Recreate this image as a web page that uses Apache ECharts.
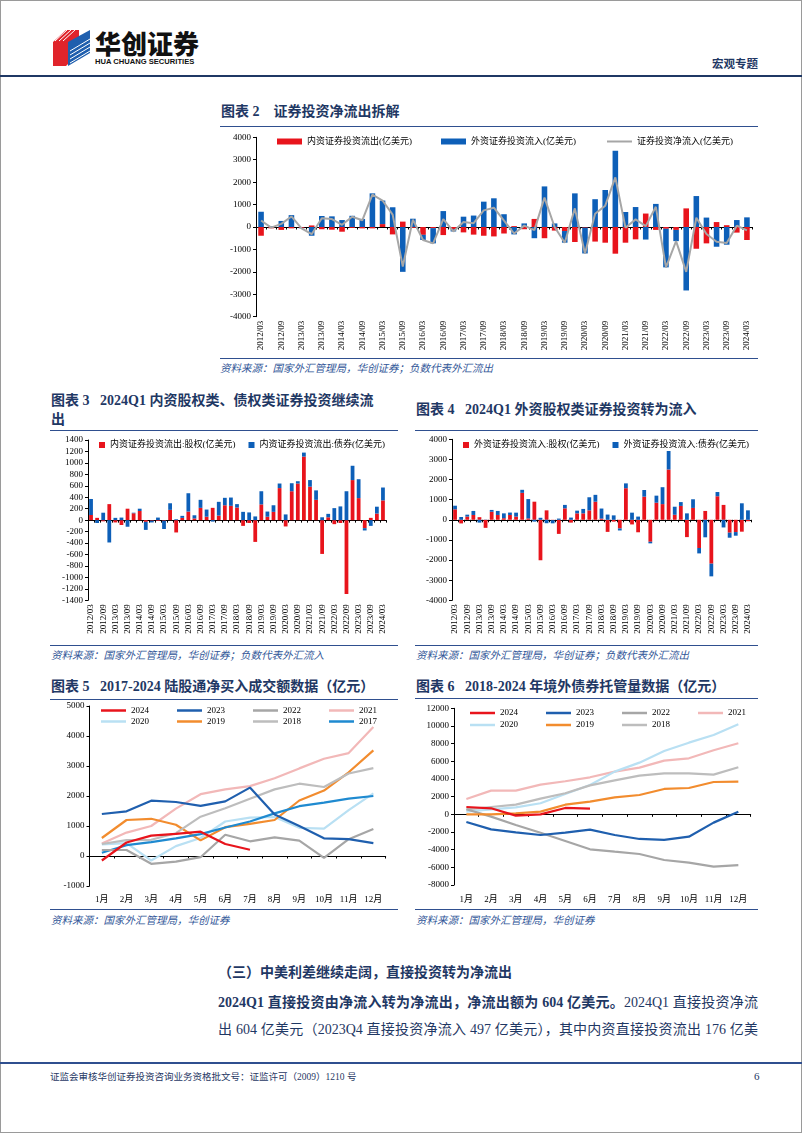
<!DOCTYPE html>
<html><head><meta charset="utf-8">
<script src="https://cdn.jsdelivr.net/npm/echarts@6/dist/echarts.min.js"></script>
<style>
body{margin:0;background:#fff;}
#page{position:relative;width:802px;height:1133px;overflow:hidden;background:#fff;font-family:'Liberation Serif','Noto Sans CJK SC',serif;}
.abs{position:absolute;white-space:nowrap;}
.ch{position:absolute;left:0;top:0;width:802px;height:1133px;pointer-events:none;}
.title{font-weight:bold;font-size:14px;color:#1f3864;line-height:16px;}
.rule{position:absolute;height:0;border-top:1.5px solid #2f4f8f;}
.src{font-style:italic;font-size:10.5px;color:#2f5597;line-height:12px;}
.para{font-size:14px;color:#1f3864;line-height:18px;width:540px;text-align:justify;text-align-last:justify;}
</style></head>
<body><div id="page">
<div class="abs" style="left:0;top:0;width:800px;height:1131px;border:1px solid #9a9a9a;"></div>
<svg class="abs" style="left:53px;top:29px;" width="40" height="38" viewBox="0 0 40 38">
  <polygon points="0,13 13,1 26,1 26,24 13,37 0,37" fill="#e0242b"/>
  <polygon points="15,13 37,1 37,24 15,37" fill="#1f5fae"/>
  <g stroke="#fff" stroke-width="1">
    <line x1="2" y1="12" x2="14" y2="1"/><line x1="6" y1="12" x2="18" y2="1"/><line x1="10" y1="12" x2="22" y2="1"/>
    <line x1="17" y1="22" x2="37" y2="10"/><line x1="17" y1="26" x2="37" y2="14"/><line x1="17" y1="30" x2="37" y2="18"/><line x1="17" y1="34" x2="37" y2="22"/>
  </g>
</svg>
<div class="abs" style="left:95px;top:28px;font-family:'Noto Sans CJK SC';font-weight:900;font-size:26px;line-height:30px;letter-spacing:0px;color:#111;">华创证券</div>
<div class="abs" style="left:95px;top:57px;font-family:'Liberation Sans';font-weight:bold;font-size:7.6px;line-height:9px;color:#111;">HUA CHUANG SECURITIES</div>
<div class="abs" style="left:712px;top:56px;font-family:'Noto Sans CJK SC';font-weight:bold;font-size:11.5px;line-height:14px;color:#1f3864;">宏观专题</div>
<div class="abs" style="left:0;top:75px;width:802px;height:2px;background:#1f3864;"></div>

<div class="abs title" style="left:221px;top:104px;">图表 2&nbsp;&nbsp;&nbsp;&nbsp;证券投资净流出拆解</div>
<div class="rule" style="left:220px;top:126px;width:538px;"></div>
<div class="rule" style="left:220px;top:357.5px;width:538px;"></div>
<div class="abs src" style="left:220px;top:363px;">资料来源：国家外汇管理局，华创证券；负数代表外汇流出</div>

<div class="abs title" style="left:51px;top:393px;">图表 3&nbsp;&nbsp;&nbsp;2024Q1 内资股权类、债权类证券投资继续流</div>
<div class="abs title" style="left:51px;top:412px;">出</div>
<div class="rule" style="left:50px;top:430px;width:348px;"></div>
<div class="rule" style="left:50px;top:644.5px;width:348px;"></div>
<div class="abs src" style="left:51px;top:650px;">资料来源：国家外汇管理局，华创证券；负数代表外汇流入</div>

<div class="abs title" style="left:416px;top:402px;">图表 4&nbsp;&nbsp;&nbsp;2024Q1 外资股权类证券投资转为流入</div>
<div class="rule" style="left:415px;top:430px;width:343px;"></div>
<div class="rule" style="left:415px;top:644.5px;width:343px;"></div>
<div class="abs src" style="left:416px;top:650px;">资料来源：国家外汇管理局，华创证券；负数代表外汇流出</div>

<div class="abs title" style="left:51px;top:679px;">图表 5&nbsp;&nbsp;&nbsp;2017-2024 陆股通净买入成交额数据（亿元）</div>
<div class="rule" style="left:50px;top:699px;width:348px;"></div>
<div class="rule" style="left:50px;top:909px;width:348px;"></div>
<div class="abs src" style="left:51px;top:915px;">资料来源：国家外汇管理局，华创证券</div>

<div class="abs title" style="left:416px;top:679px;">图表 6&nbsp;&nbsp;&nbsp;2018-2024 年境外债券托管量数据（亿元）</div>
<div class="rule" style="left:415px;top:698px;width:343px;"></div>
<div class="rule" style="left:415px;top:909px;width:343px;"></div>
<div class="abs src" style="left:416px;top:915px;">资料来源：国家外汇管理局，华创证券</div>

<div class="abs" style="left:218px;top:964px;font-weight:bold;font-size:14px;line-height:18px;color:#1f3864;">（三）中美利差继续走阔，直接投资转为净流出</div>
<div class="abs para" style="left:218px;top:994px;"><b>2024Q1 直接投资由净流入转为净流出，净流出额为 604 亿美元。</b>2024Q1 直接投资净流</div>
<div class="abs para" style="left:218px;top:1021px;">出 604 亿美元（2023Q4 直接投资净流入 497 亿美元），其中内资直接投资流出 176 亿美</div>

<div class="abs" style="left:0;top:1062px;width:802px;height:1.5px;background:#2f4f8f;"></div>
<div class="abs" style="left:50px;top:1071px;font-size:9.5px;line-height:12px;color:#1f3864;">证监会审核华创证券投资咨询业务资格批文号：证监许可（2009）1210 号</div>
<div class="abs" style="left:754px;top:1070px;font-size:11px;line-height:13px;color:#1f3864;">6</div>

<div id="c2" class="ch"></div>
<div id="c3" class="ch"></div>
<div id="c4" class="ch"></div>
<div id="c5" class="ch"></div>
<div id="c6" class="ch"></div>
</div>
<script>
const quarters = ['2012/03','2012/06','2012/09','2012/12','2013/03','2013/06','2013/09','2013/12','2014/03','2014/06','2014/09','2014/12','2015/03','2015/06','2015/09','2015/12','2016/03','2016/06','2016/09','2016/12','2017/03','2017/06','2017/09','2017/12','2018/03','2018/06','2018/09','2018/12','2019/03','2019/06','2019/09','2019/12','2020/03','2020/06','2020/09','2020/12','2021/03','2021/06','2021/09','2021/12','2022/03','2022/06','2022/09','2022/12','2023/03','2023/06','2023/09','2023/12','2024/03'];
const months = ['1月','2月','3月','4月','5月','6月','7月','8月','9月','10月','11月','12月'];

// 图表2
const c2Domestic = [-390,-60,-130,-60,-40,70,-100,-120,-210,-40,-60,-60,130,-330,240,-40,-350,-50,-360,-100,-240,-340,-390,-420,-290,40,-100,360,-500,-160,-180,-670,-30,-650,-700,-1190,-700,-550,600,-130,-80,-130,830,-970,-730,220,80,-250,-580];
const c2Foreign = [680,30,270,530,-20,-390,490,475,310,500,360,1500,1050,880,-2000,370,-230,-680,710,-100,460,510,1130,1280,570,-330,160,-500,1810,160,-520,1500,-1150,1240,1650,3400,670,890,-560,1030,-1720,-500,-2830,1380,420,-880,-790,310,430];
const c2Net = [290,-30,140,470,-60,-320,390,355,100,460,300,1440,1180,550,-1760,330,-580,-730,350,-200,220,170,740,860,280,-290,60,-140,1310,0,-700,830,-1180,590,950,2210,-30,340,40,900,-1800,-630,-2000,410,-310,-660,-710,60,-150];

// 图表3
const c3Equity = [90,40,-20,280,-40,-85,200,120,160,-30,-10,-15,-10,180,-215,40,150,30,215,60,215,80,260,250,220,-100,-50,-380,275,60,145,560,-110,505,640,1110,585,355,-590,50,-70,-50,-1290,700,385,-140,40,115,345];
const c3Bond = [280,-50,130,-390,40,45,-115,10,40,-140,-30,45,-145,115,15,35,320,55,140,125,-25,240,130,145,60,145,135,65,230,90,115,80,100,140,40,70,115,165,50,60,210,240,505,250,330,-40,-100,120,225];

// 图表4
const c4Equity = [520,-180,160,240,130,-400,400,240,80,240,160,1340,70,900,-2010,470,-20,-700,570,-140,320,320,470,900,60,-600,-90,-430,1570,-230,-620,1150,-1090,850,780,2500,250,690,-860,590,-1400,440,-2180,1170,740,-640,-610,-590,-70];
const c4Bond = [180,140,95,200,-140,10,90,200,240,120,195,150,960,-90,100,-170,-155,60,170,110,135,220,650,340,500,260,220,-100,240,355,160,330,-80,350,840,920,400,190,320,430,-270,-870,-630,210,-380,-250,-180,820,470];

// 图表5 陆股通
const c5_2024 = [-150,450,680,740,810,400,210];
const c5_2023 = [1400,1490,1845,1800,1670,1820,2280,1380,1000,590,560,430];
const c5_2022 = [200,200,-260,-190,-40,710,490,620,510,-60,560,900];
const c5_2021 = [420,780,1000,1580,2060,2220,2330,2590,2920,3240,3430,4300];
const c5_2020 = [390,430,-150,330,600,1150,1280,1300,940,910,1530,2090];
const c5_2019 = [600,1200,1240,1040,520,960,1070,1200,1850,2180,2790,3520];
const c5_2018 = [400,530,540,760,1310,1590,1910,2220,2410,2300,2750,2930];
const c5_2017 = [110,360,460,590,730,950,1150,1420,1660,1780,1910,2000];

// 图表6 境外债券托管量
const c6_2024 = [830,680,-150,0,720,640];
const c6_2023 = [-870,-1700,-2040,-2340,-2080,-1740,-2340,-2790,-2900,-2530,-940,300];
const c6_2022 = [570,-260,-1210,-2080,-3020,-3960,-4230,-4490,-5170,-5470,-5920,-5740];
const c6_2021 = [1740,2680,2680,3360,3740,4190,4830,5280,6080,6340,7250,8040];
const c6_2020 = [300,570,790,1250,2300,3320,4830,5850,7170,8110,8980,10190];
const c6_2019 = [0,0,110,300,1090,1430,1920,2190,2870,2980,3660,3700];
const c6_2018 = [570,830,1090,1770,2380,3280,3850,4380,4640,4640,4490,5320];

const FF = "'Liberation Serif','Noto Sans CJK SC'";
const RED = '#e8141c', BLUE = '#0d5fb8';
const YC = {'2024':'#e8141c','2023':'#1f5fae','2022':'#a6a6a6','2021':'#f2b8b8','2020':'#b9e0f3','2019':'#f28c2e','2018':'#bdbdbd','2017':'#1f8ad0'};
const txt = {fontSize:9, fontFamily:FF, color:'#000'};

function yAx(min,max,interval){
  return {type:'value',min:min,max:max,interval:interval,
    axisLine:{show:true,lineStyle:{color:'#000',width:1}},
    axisTick:{show:true,length:3,lineStyle:{color:'#000'}},
    splitLine:{show:false},
    axisLabel:Object.assign({margin:5,formatter:function(v){return String(v);}},txt)};
}
function xAxes(data, rotate, interval, margin){
  return [
    {type:'category',data:data,position:'bottom',
      axisLine:{show:true,onZero:true,lineStyle:{color:'#000',width:1}},
      axisTick:{show:true,length:2.5,interval:0,lineStyle:{color:'#000'}},
      axisLabel:{show:false}},
    {type:'category',data:data,position:'bottom',
      axisLine:{show:false,onZero:false},axisTick:{show:false},
      axisLabel:Object.assign({rotate:rotate,interval:interval,margin:margin},txt)}
  ];
}
function mk(id,opt){
  const c = echarts.init(document.getElementById(id),null,{renderer:'canvas'});
  opt.animation=false;
  c.setOption(opt);
}

mk('c2',{
  grid:{left:256,right:50,top:137.3,bottom:816.3},
  legend:[
    {left:272,top:132,itemWidth:25,itemHeight:6,itemGap:29,textStyle:txt,icon:'rect',
      data:['内资证券投资流出(亿美元)','外资证券投资流入(亿美元)']},
    {left:602,top:132,itemWidth:25,itemHeight:2,textStyle:txt,icon:'rect',
      data:['证券投资净流入(亿美元)']}
  ],
  xAxis:xAxes(quarters,90,1,4),
  yAxis:yAx(-4000,4000,1000),
  series:[
    {name:'内资证券投资流出(亿美元)',type:'bar',stack:'s',barWidth:'55%',data:c2Domestic,itemStyle:{color:RED}},
    {name:'外资证券投资流入(亿美元)',type:'bar',stack:'s',barWidth:'55%',data:c2Foreign,itemStyle:{color:BLUE}},
    {name:'证券投资净流入(亿美元)',type:'line',data:c2Net,symbol:'none',z:5,lineStyle:{color:'#a6a6a6',width:2},itemStyle:{color:'#a6a6a6'}}
  ]
});

mk('c3',{
  grid:{left:88,right:416,top:440,bottom:532.7},
  legend:{left:94,top:435.5,itemWidth:6,itemHeight:6,itemGap:13,textStyle:txt,icon:'rect',
    data:['内资证券投资流出:股权(亿美元)','内资证券投资流出:债券(亿美元)']},
  xAxis:xAxes(quarters,90,1,4),
  yAxis:yAx(-1400,1400,200),
  series:[
    {name:'内资证券投资流出:股权(亿美元)',type:'bar',stack:'s',barWidth:'62%',data:c3Equity,itemStyle:{color:RED}},
    {name:'内资证券投资流出:债券(亿美元)',type:'bar',stack:'s',barWidth:'62%',data:c3Bond,itemStyle:{color:BLUE}}
  ]
});

mk('c4',{
  grid:{left:452,right:51,top:439.3,bottom:532.7},
  legend:{left:458,top:435.5,itemWidth:6,itemHeight:6,itemGap:13,textStyle:txt,icon:'rect',
    data:['外资证券投资流入:股权(亿美元)','外资证券投资流入:债券(亿美元)']},
  xAxis:xAxes(quarters,90,1,4),
  yAxis:yAx(-4000,4000,1000),
  series:[
    {name:'外资证券投资流入:股权(亿美元)',type:'bar',stack:'s',barWidth:'62%',data:c4Equity,itemStyle:{color:RED}},
    {name:'外资证券投资流入:债券(亿美元)',type:'bar',stack:'s',barWidth:'62%',data:c4Bond,itemStyle:{color:BLUE}}
  ]
});

function lineS(name,data,z){
  return {name:name,type:'line',data:data,symbol:'none',z:z,
    lineStyle:{color:YC[name],width:2.2},itemStyle:{color:YC[name]}};
}
function lg(left,top,names){
  return {left:left,top:top,itemWidth:25,itemHeight:2.5,itemGap:28,icon:'rect',textStyle:txt,data:names};
}

mk('c5',{
  grid:{left:89.5,right:416.3,top:706,bottom:247},
  legend:[lg(96,701,['2024','2023','2022','2021']),lg(96,712,['2020','2019','2018','2017'])],
  xAxis:xAxes(months,0,0,9),
  yAxis:yAx(-1000,5000,1000),
  series:[
    lineS('2021',c5_2021,2),lineS('2020',c5_2020,2),lineS('2019',c5_2019,2),lineS('2018',c5_2018,2),
    lineS('2017',c5_2017,3),lineS('2022',c5_2022,3),lineS('2023',c5_2023,4),lineS('2024',c5_2024,5)
  ]
});

mk('c6',{
  grid:{left:454,right:51.3,top:708.3,bottom:248},
  legend:[lg(465,703.5,['2024','2023','2022','2021']),lg(465,715.5,['2020','2019','2018'])],
  xAxis:xAxes(months,0,0,10),
  yAxis:yAx(-8000,12000,2000),
  series:[
    lineS('2021',c6_2021,2),lineS('2020',c6_2020,2),lineS('2018',c6_2018,2),lineS('2022',c6_2022,3),
    lineS('2019',c6_2019,3),lineS('2023',c6_2023,4),lineS('2024',c6_2024,5)
  ]
});
</script>
</body></html>
